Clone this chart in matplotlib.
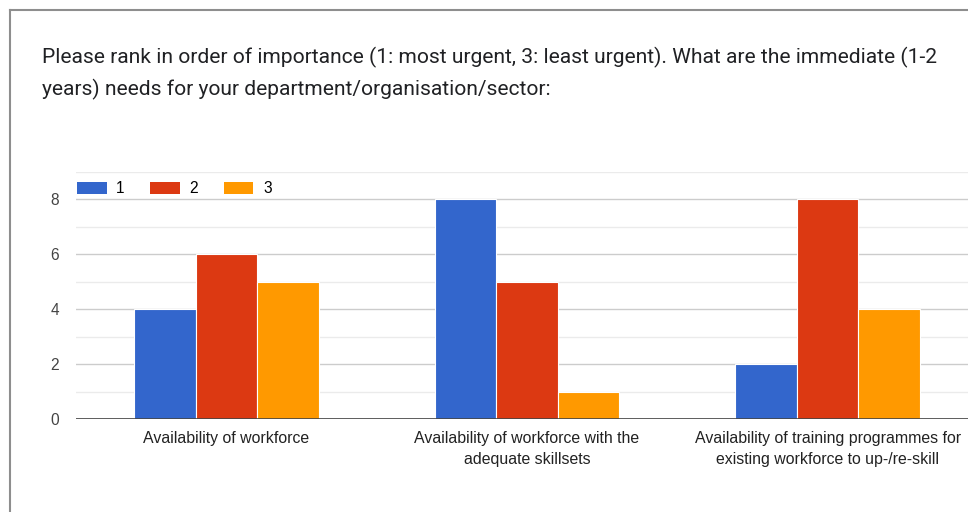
import numpy as np
import matplotlib.pyplot as plt
from matplotlib.lines import Line2D
from matplotlib.patches import Patch

# data
categories = [
    "Availability of workforce",
    "Availability of workforce with the\nadequate skillsets",
    "Availability of training programmes for\nexisting workforce to up-/re-skill",
]
rank_labels = ["1", "2", "3"]
rank_1 = [4, 8, 2]
rank_2 = [6, 5, 8]
rank_3 = [5, 1, 4]
colors = ["#3366cc", "#dc3912", "#ff9900"]

title_lines = [
    "Please rank in order of importance (1: most urgent, 3: least urgent). "
    "What are the immediate (1-2",
    "years) needs for your department/organisation/sector:",
]

W, H = 968, 512
fig = plt.figure(figsize=(W / 100, H / 100), dpi=100)

# card border (cut off on the right and bottom)
fig.add_artist(Line2D([9.5 / W, 9.5 / W], [0, 1 - 9.5 / H], color="#8e8e8e", lw=1.5))
fig.add_artist(Line2D([9.5 / W, 1], [1 - 9.5 / H, 1 - 9.5 / H], color="#8e8e8e", lw=1.5))

for i, line in enumerate(title_lines):
    fig.text(42 / W, 1 - (63 + 32 * i) / H, line, fontsize=15.15, family="Roboto",
             color="#202124", va="baseline", ha="left")

left, right = 76 / W, 978 / W
bottom, top = 1 - 419 / H, 1 - 171.5 / H
ax = fig.add_axes([left, bottom, right - left, top - bottom])

x = np.arange(len(categories))
width = 0.205
series = [rank_1, rank_2, rank_3]
for i, (vals, c) in enumerate(zip(series, colors)):
    ax.bar(x + (i - 1) * width, vals, width, color=c, edgecolor="white",
           linewidth=0.8, zorder=3)

ax.set_xlim(-0.5, 2.5)
ax.set_ylim(0, 9)
ax.set_yticks([0, 2, 4, 6, 8])
ax.set_yticks([1, 3, 5, 7, 9], minor=True)
ax.grid(axis="y", which="major", color="#cccccc", lw=1, zorder=0)
ax.grid(axis="y", which="minor", color="#ebebeb", lw=1, zorder=0)
ax.axhline(0, color="#444444", lw=1.2, zorder=4)
for s in ax.spines.values():
    s.set_visible(False)
ax.tick_params(axis="y", which="both", length=0, pad=12, labelsize=11.2,
               labelcolor="#444444")
ax.tick_params(axis="x", length=0, pad=9, labelsize=11.4, labelcolor="#222222")
ax.set_xticks(x)
ax.set_xticklabels(categories, family="Liberation Sans", linespacing=1.45)
for lab in ax.get_yticklabels():
    lab.set_family("Liberation Sans")

handles = [Patch(facecolor=c, edgecolor="none") for c in colors]
fig.legend(handles, rank_labels, loc="upper left", bbox_to_anchor=(77 / W, 1 - 181 / H),
           ncol=3, frameon=False, handlelength=1.9, handleheight=0.8,
           handletextpad=0.62, columnspacing=1.65, borderpad=0, borderaxespad=0,
           prop={"family": "Liberation Sans", "size": 11.2})

fig.savefig("out.png", dpi=100)
